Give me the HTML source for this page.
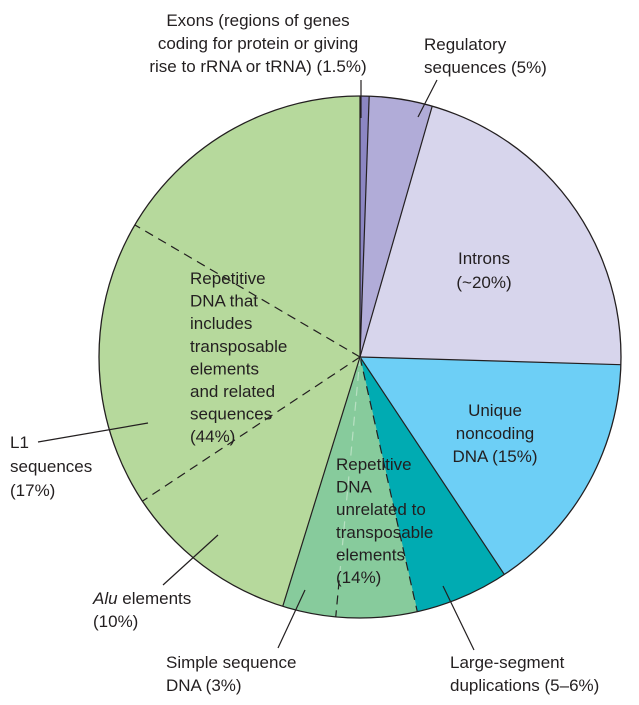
<!DOCTYPE html>
<html><head><meta charset="utf-8"><style>
html,body{margin:0;padding:0;background:#fff;}
svg text{font-family:"Liberation Sans",sans-serif;font-size:17px;fill:#231f20;}
</style></head><body>
<svg id="chart" width="639" height="700" viewBox="0 0 639 700" xmlns="http://www.w3.org/2000/svg">
<g id="slices"></g>
<g id="labels">
<text x="258" y="26" text-anchor="middle"><tspan x="258">Exons (regions of genes</tspan><tspan x="258" dy="23">coding for protein or giving</tspan><tspan x="258" dy="23">rise to rRNA or tRNA) (1.5%)</tspan></text>
<text x="424" y="50"><tspan x="424">Regulatory</tspan><tspan x="424" dy="23">sequences (5%)</tspan></text>
<text x="484" y="264" text-anchor="middle"><tspan x="484">Introns</tspan><tspan x="484" dy="24">(~20%)</tspan></text>
<text x="495" y="416" text-anchor="middle"><tspan x="495">Unique</tspan><tspan x="495" dy="23">noncoding</tspan><tspan x="495" dy="23">DNA (15%)</tspan></text>
<text x="190" y="284"><tspan x="190">Repetitive</tspan><tspan x="190" dy="22.6">DNA that</tspan><tspan x="190" dy="22.6">includes</tspan><tspan x="190" dy="22.6">transposable</tspan><tspan x="190" dy="22.6">elements</tspan><tspan x="190" dy="22.6">and related</tspan><tspan x="190" dy="22.6">sequences</tspan><tspan x="190" dy="22.6">(44%)</tspan></text>
<text x="336" y="470"><tspan x="336">Repetitive</tspan><tspan x="336" dy="22.6">DNA</tspan><tspan x="336" dy="22.6">unrelated to</tspan><tspan x="336" dy="22.6">transposable</tspan><tspan x="336" dy="22.6">elements</tspan><tspan x="336" dy="22.6">(14%)</tspan></text>
<text x="10" y="448"><tspan x="10">L1</tspan><tspan x="10" dy="24">sequences</tspan><tspan x="10" dy="24">(17%)</tspan></text>
<text x="93" y="604"><tspan x="93" font-style="italic">Alu</tspan><tspan> elements</tspan><tspan x="93" dy="23">(10%)</tspan></text>
<text x="166" y="668"><tspan x="166">Simple sequence</tspan><tspan x="166" dy="23">DNA (3%)</tspan></text>
<text x="450" y="668"><tspan x="450">Large-segment</tspan><tspan x="450" dy="23">duplications (5–6%)</tspan></text>
</g>
<g stroke="#231f20" stroke-width="1.2">
<line x1="361" y1="80" x2="361" y2="118"/>
<line x1="437" y1="80" x2="418" y2="117"/>
<line x1="38" y1="442" x2="148" y2="423"/>
<line x1="163" y1="585" x2="218" y2="535"/>
<line x1="278" y1="648" x2="305" y2="590"/>
<line x1="474" y1="650" x2="443" y2="586"/>
</g>
</svg>
<script>
const categories = ["Exons","Regulatory sequences","Introns","Unique noncoding DNA","Large-segment duplications","Repetitive unrelated (other)","Simple sequence DNA","Alu elements","L1 sequences","Other transposable-related"];
const values = [0.56, 3.9, 21.0, 15.2, 5.8, 5.0, 3.3, 10.9, 17.75, 16.55];
const colors = ["#8c86c3","#b1acd8","#d7d5ec","#6dcff6","#00abb2","#87cb9c","#87cb9c","#b6d99c","#b6d99c","#b6d99c"];
// boundary style before each slice: 0 solid, 1 dashed, 2 faint dashed (dark only near rim)
const startStyle = [0,0,0,0,0,1,2,0,1,1];
const cx=360, cy=357, r=261;
const total = values.reduce((a,b)=>a+b,0);
const ang = v => v/total*2*Math.PI;
const pt = (a,rr=r) => [cx + rr*Math.sin(a), cy - rr*Math.cos(a)];
const g = document.getElementById('slices');
const NS="http://www.w3.org/2000/svg";
let a0 = 0;
const bounds=[];
values.forEach((v,i)=>{
  const a1 = a0 + ang(v);
  const [x0,y0]=pt(a0),[x1,y1]=pt(a1);
  const large = (a1-a0)>Math.PI?1:0;
  const p=document.createElementNS(NS,'path');
  p.setAttribute('d',`M${cx},${cy} L${x0},${y0} A${r},${r} 0 ${large} 1 ${x1},${y1} Z`);
  p.setAttribute('fill',colors[i]);
  p.setAttribute('stroke',colors[i]);
  p.setAttribute('stroke-width','0.5');
  
  
  g.appendChild(p);
  bounds.push([a0,startStyle[i]]);
  a0=a1;
});
function addLine(a,r1,r2,color,dash){
  const [xa,ya]=pt(a,r1),[xb,yb]=pt(a,r2);
  const l=document.createElementNS(NS,'line');
  l.setAttribute('x1',xa);l.setAttribute('y1',ya);l.setAttribute('x2',xb);l.setAttribute('y2',yb);
  l.setAttribute('stroke',color);l.setAttribute('stroke-width','1.2');
  if(dash) l.setAttribute('stroke-dasharray','9 6');
  
  
  g.appendChild(l);
}
bounds.forEach(([a,s])=>{
  if(s===2){ addLine(a,0,r*0.86,'#b8e0c2',true); addLine(a,r*0.86,r,'#231f20',true); }
  else addLine(a,0,r,'#231f20',s===1);
});
const c=document.createElementNS(NS,'circle');
c.setAttribute('cx',cx);c.setAttribute('cy',cy);c.setAttribute('r',r);
c.setAttribute('fill','none');c.setAttribute('stroke','#231f20');c.setAttribute('stroke-width','1.3');


g.appendChild(c);
</script>
</body></html>
